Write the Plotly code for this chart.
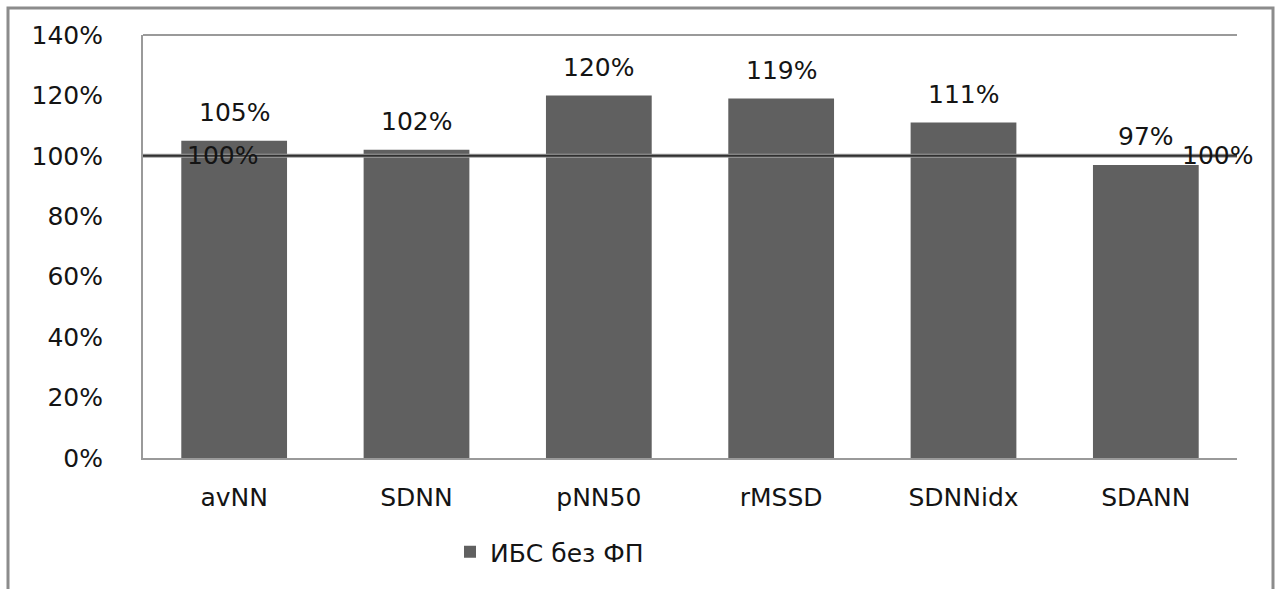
import plotly.graph_objects as go

categories = ["avNN", "SDNN", "pNN50", "rMSSD", "SDNNidx", "SDANN"]
values = [1.05, 1.02, 1.20, 1.19, 1.11, 0.97]
reference_level = 1.00
series_name = "ИБС без ФП"
y_ticks = [0, 0.2, 0.4, 0.6, 0.8, 1.0, 1.2, 1.4]

W, H = 1277, 589
L, R, T, B = 143, 40, 35, 131
pw, ph = W - L - R, H - T - B

def px_x(p):
    return (p - L) / pw

def px_y(p):
    return (H - B - p) / ph

FONT = "DejaVu Sans"
FS = 25
TXT = "#141414"
BAR = "#606060"

fig = go.Figure()

fig.add_trace(go.Bar(
    x=categories, y=values, name=series_name,
    marker=dict(color=BAR, line=dict(width=0)),
    width=0.58, hoverinfo="skip",
))

annotations = []
for c, v in zip(categories, values):
    annotations.append(dict(
        x=c, y=v, text=f"{round(v * 100)}%", showarrow=False,
        yshift=28, font=dict(family=FONT, size=FS, color=TXT),
    ))
for idx, shift in ((0, -12), (len(categories) - 1, 72)):
    annotations.append(dict(
        x=idx, y=reference_level, text=f"{round(reference_level * 100)}%",
        showarrow=False, xshift=shift,
        font=dict(family=FONT, size=FS, color=TXT),
    ))

shapes = [
    # reference line at 100% across the plot area
    dict(type="line", xref="paper", yref="y", x0=0, x1=1,
         y0=reference_level, y1=reference_level, layer="above",
         line=dict(color="#a0a0a0", width=4)),
    dict(type="line", xref="paper", yref="y", x0=0, x1=1,
         y0=reference_level, y1=reference_level, layer="above",
         line=dict(color="#303030", width=2)),
    # top edge of the plot area
    dict(type="line", xref="paper", yref="paper", x0=0, x1=1, y0=1, y1=1,
         line=dict(color="#9a9a9a", width=2)),
    # chart frame
    dict(type="rect", xref="paper", yref="paper",
         x0=px_x(8), x1=px_x(1273), y0=px_y(8), y1=px_y(620),
         line=dict(color="#8c8c8c", width=3)),
]

fig.update_layout(
    width=W, height=H,
    margin=dict(l=L, r=R, t=T, b=B),
    paper_bgcolor="white", plot_bgcolor="white",
    font=dict(family=FONT, size=FS, color=TXT),
    bargap=0.42,
    showlegend=True,
    legend=dict(orientation="h", x=px_x(450), y=px_y(552),
                xanchor="left", yanchor="middle",
                font=dict(family=FONT, size=FS, color=TXT),
                itemsizing="constant"),
    xaxis=dict(
        type="category", range=[-0.5, 5.5],
        showline=True, linecolor="#9a9a9a", linewidth=2,
        ticks="", showgrid=False, ticklabelstandoff=16,
        tickfont=dict(family=FONT, size=FS, color=TXT),
    ),
    yaxis=dict(
        range=[0, 1.4], tickvals=y_ticks,
        ticktext=[f"{round(t * 100)}%" for t in y_ticks],
        showline=True, linecolor="#9a9a9a", linewidth=2,
        ticks="", showgrid=False, zeroline=False, ticklabelstandoff=33,
        tickfont=dict(family=FONT, size=FS, color=TXT),
    ),
    annotations=annotations,
    shapes=shapes,
)

fig.write_html("out.html")
